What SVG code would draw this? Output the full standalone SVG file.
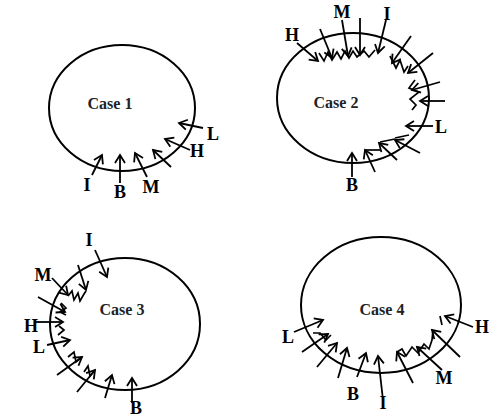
<svg xmlns="http://www.w3.org/2000/svg" width="502" height="417" viewBox="0 0 502 417">
<defs>
<marker id="ah" viewBox="-10 -10 20 20" markerWidth="20" markerHeight="20" refX="0" refY="0" orient="auto" markerUnits="userSpaceOnUse" overflow="visible">
<path d="M-8,-5 L0,0 L-8,5" fill="none" stroke="#000" stroke-width="1.8" stroke-linejoin="miter"/>
</marker>
<style>
.el{fill:none;stroke:#000;stroke-width:2}
.ar{fill:none;stroke:#000;stroke-width:1.8;marker-end:url(#ah)}
.zz{fill:none;stroke:#000;stroke-width:1.7;stroke-linejoin:miter}
.lb{font-family:"Liberation Serif",serif;font-weight:bold;font-size:18px;fill:#000;text-anchor:middle}
.cs{font-family:"Liberation Serif",serif;font-weight:bold;font-size:16px;fill:#222;text-anchor:middle}
</style>
</defs>
<rect width="502" height="417" fill="#fff"/>

<g id="case1">
<ellipse class="el" cx="122" cy="108" rx="73" ry="63"/>
<text class="cs" x="110" y="109">Case 1</text>
<g id="case1-arrows">
<line class="ar" x1="92" y1="175" x2="102" y2="155"/>
<line class="ar" x1="120" y1="183" x2="120" y2="155"/>
<line class="ar" x1="147" y1="177" x2="135" y2="153"/>
<line class="ar" x1="171" y1="167" x2="153" y2="150"/>
<line class="ar" x1="190" y1="150" x2="165" y2="139"/>
<line class="ar" x1="203" y1="128" x2="179" y2="123"/>
</g>
<text class="lb" x="87" y="191">I</text>
<text class="lb" x="120" y="198">B</text>
<text class="lb" x="151" y="193">M</text>
<text class="lb" x="197" y="157">H</text>
<text class="lb" x="213" y="140">L</text>
</g>

<g id="case2">
<ellipse class="el" cx="353" cy="98" rx="76" ry="65"/>
<text class="cs" x="336" y="108">Case 2</text>
<g id="case2-arrows">
<line class="ar" x1="297" y1="43" x2="318" y2="61"/>
<line class="ar" x1="320" y1="29" x2="332" y2="58"/>
<line class="ar" x1="342" y1="20" x2="348" y2="56"/>
<line class="ar" x1="360" y1="18" x2="360" y2="55"/>
<line class="ar" x1="386" y1="20" x2="378" y2="53"/>
<line class="ar" x1="411" y1="36" x2="392" y2="63"/>
<line class="ar" x1="433" y1="53" x2="408" y2="73"/>
<line class="ar" x1="440" y1="82" x2="412" y2="90"/>
<line class="ar" x1="445" y1="101" x2="420" y2="101"/>
<line class="ar" x1="433" y1="126" x2="406" y2="126"/>
<line class="ar" x1="420" y1="153" x2="395" y2="140"/>
<line class="ar" x1="397" y1="160" x2="379" y2="143"/>
<line class="ar" x1="375" y1="172" x2="365" y2="150"/>
<line class="ar" x1="352" y1="177" x2="352" y2="153"/>
<polyline class="zz" points="319,53 324,61 328,52 332,60 337,52 341,59 345,51 349,58 353,51 357,57 364,51 369,57 375,50"/>
<polyline class="zz" points="390,56 396,68 400,60 404,72 408,66"/>
<polyline class="zz" points="415,80 409,88 419,92 410,99 416,105 412,110"/>
<polyline class="zz" points="365,150 380,150"/>
<polyline class="zz" points="380,142 395,139"/>
<polyline class="zz" points="395,138 409,135"/>
</g>
<text class="lb" x="292" y="41">H</text>
<text class="lb" x="342" y="18">M</text>
<text class="lb" x="387" y="20">I</text>
<text class="lb" x="441" y="133">L</text>
<text class="lb" x="352" y="191">B</text>
</g>

<g id="case3">
<ellipse class="el" cx="125" cy="324" rx="75" ry="66"/>
<text class="cs" x="122" y="315">Case 3</text>
<g id="case3-arrows">
<line class="ar" x1="95" y1="250" x2="107" y2="277"/>
<line class="ar" x1="78" y1="265" x2="86" y2="290"/>
<line class="ar" x1="52" y1="278" x2="68" y2="295"/>
<line class="ar" x1="38" y1="297" x2="65" y2="312"/>
<line class="ar" x1="35" y1="322" x2="63" y2="322"/>
<line class="ar" x1="47" y1="345" x2="70" y2="340"/>
<line class="ar" x1="57" y1="375" x2="82" y2="357"/>
<line class="ar" x1="77" y1="392" x2="95" y2="370"/>
<line class="ar" x1="105" y1="398" x2="112" y2="375"/>
<line class="ar" x1="132" y1="403" x2="132" y2="378"/>
<polyline class="zz" points="68,296 72,291 74,300 78,293 80,301 84,294 86,291"/>
<polyline class="zz" points="61,303 66,308 60,312 66,315"/>
<polyline class="zz" points="59,326 64,330 58,335"/>
<polyline class="zz" points="68,357 74,352 76,362 82,357"/>
<polyline class="zz" points="84,372 88,366 90,376 95,370"/>
</g>
<text class="lb" x="89" y="246">I</text>
<text class="lb" x="43" y="281">M</text>
<text class="lb" x="31" y="332">H</text>
<text class="lb" x="39" y="353">L</text>
<text class="lb" x="136" y="414">B</text>
</g>

<g id="case4">
<ellipse class="el" cx="381" cy="305" rx="80" ry="68"/>
<text class="cs" x="382" y="315">Case 4</text>
<g id="case4-arrows">
<line class="ar" x1="294" y1="332" x2="323" y2="320"/>
<line class="ar" x1="302" y1="352" x2="328" y2="334"/>
<line class="ar" x1="317" y1="367" x2="337" y2="343"/>
<line class="ar" x1="338" y1="378" x2="347" y2="348"/>
<line class="ar" x1="357" y1="377" x2="366" y2="353"/>
<line class="ar" x1="383" y1="400" x2="378" y2="356"/>
<line class="ar" x1="413" y1="383" x2="397" y2="352"/>
<line class="ar" x1="442" y1="370" x2="417" y2="347"/>
<line class="ar" x1="460" y1="357" x2="432" y2="330"/>
<line class="ar" x1="473" y1="327" x2="445" y2="316"/>
<polyline class="zz" points="397,352 402,349 406,356 412,347 418,353 424,344 429,349 432,340 433,330"/>
<polyline class="zz" points="313,333 320,333 326,340 331,335"/>
<polyline class="zz" points="440,316 442,325"/>
</g>
<text class="lb" x="288" y="343">L</text>
<text class="lb" x="353" y="400">B</text>
<text class="lb" x="383" y="409">I</text>
<text class="lb" x="444" y="384">M</text>
<text class="lb" x="482" y="333">H</text>
</g>
</svg>
